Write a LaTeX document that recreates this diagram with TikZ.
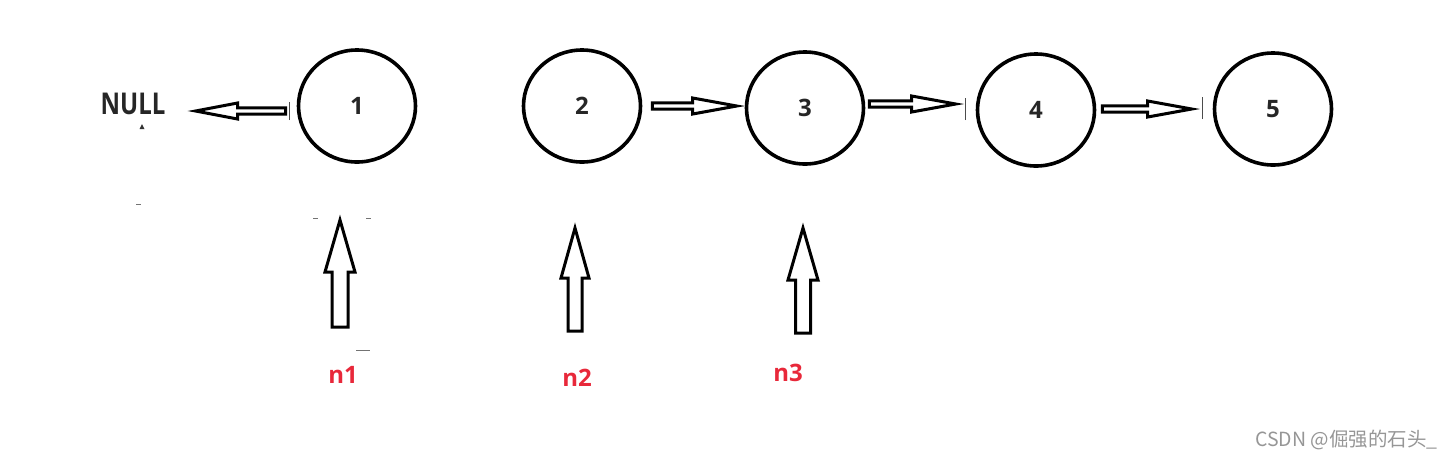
\documentclass[tikz,border=0pt]{standalone}
\usepackage{fontspec}
\setmainfont{Open Sans}
\newfontfamily\cjkfont{Noto Sans CJK SC}
\usetikzlibrary{calc,shapes.geometric}
\definecolor{lblred}{RGB}{232,40,58}
\definecolor{wmgrey}{RGB}{150,150,150}
\tikzset{
  listnode/.style={draw, line width=3.6pt, ellipse, minimum width=117pt, minimum height=112pt, inner sep=0pt, font=\fontsize{24}{28}\selectfont\bfseries, text=black!85},
  hollow/.style={draw, line width=3pt, line join=miter, fill=white},
  ptrlabel/.style={font=\fontsize{24}{28}\selectfont\bfseries, text=lblred},
  bar/.style={line width=1.2pt, black!70},
  speck/.style={line width=1pt, black!55}
}
% hollow arrow: #1 from, #2 to, #3 head length, #4 head half width, #5 shaft half width
\newcommand\hollowarrow[5]{%
  \coordinate (ha@h) at ($(#2)!#3!(#1)$);
  \draw[hollow] ($(#1)!#5!90:(#2)$) -- ($(ha@h)!#5!90:(#2)$) -- ($(ha@h)!#4!90:(#2)$)
     -- (#2) -- ($(ha@h)!#4!-90:(#2)$) -- ($(ha@h)!#5!-90:(#2)$) -- ($(#1)!#5!-90:(#2)$) -- cycle;
}
\begin{document}
\begin{tikzpicture}[x=1pt,y=-1pt]
\useasboundingbox (0,0) rectangle (1454,459);
% list nodes
\node[listnode] (c1) at (357,106) {1};
\node[listnode] (c2) at (582,106) {2};
\node[listnode] (c3) at (805,108) {3};
\node[listnode] (c4) at (1036,110) {4};
\node[listnode] (c5) at (1273,109) {5};
\node[font=\fontsize{30}{34}\selectfont\bfseries, text=black!85, inner sep=0pt, xscale=0.8, transform shape] (null) at (133,104) {NULL};
% pointer labels
\node[ptrlabel] (n1) at (343,375) {n1};
\node[ptrlabel] (n2) at (577,378) {n2};
\node[ptrlabel] (n3) at (788,373) {n3};
% horizontal arrows
\coordinate (a1s) at ([xshift=-11pt,yshift=-5pt]c1.west);
\coordinate (a1e) at ([xshift=30pt]null.east |- a1s);
\hollowarrow{a1s}{a1e}{42pt}{8pt}{3.2pt}
\coordinate (a2s) at ([xshift=10pt]c2.east);
\coordinate (a2e) at ([xshift=-8pt]c3.west |- a2s);
\hollowarrow{a2s}{a2e}{44pt}{8pt}{3.2pt}
\coordinate (a3s) at ([xshift=4pt,yshift=4pt]c3.east);
\coordinate (a3e) at ([xshift=-20pt]c4.west |- a3s);
\hollowarrow{a3s}{a3e}{44pt}{8pt}{3.2pt}
\coordinate (a4s) at ([xshift=6pt,yshift=1pt]c4.east);
\coordinate (a4e) at ([xshift=-21pt]c5.west |- a4s);
\hollowarrow{a4s}{a4e}{44pt}{8pt}{3.2pt}
% thin bars beside the circles
\draw[bar] ([xshift=-7pt,yshift=-14pt]c1.west) -- ([xshift=-7pt,yshift=4pt]c1.west);
\draw[bar] ([xshift=-10pt,yshift=-10pt]c4.west) -- ([xshift=-10pt,yshift=12pt]c4.west);
\draw[bar] ([xshift=-10pt,yshift=-10pt]c5.west) -- ([xshift=-10pt,yshift=12pt]c5.west);
% vertical pointer arrows
\coordinate (p1b) at (340,327);
\coordinate (p1t) at (340,220);
\hollowarrow{p1b}{p1t}{52pt}{15pt}{8pt}
\coordinate (p2b) at (575,331);
\coordinate (p2t) at (575,228);
\hollowarrow{p2b}{p2t}{50pt}{14pt}{7pt}
\coordinate (p3b) at (803,333);
\coordinate (p3t) at (803,228);
\hollowarrow{p3b}{p3t}{52pt}{15pt}{7.5pt}
% specks
\fill[black!80] (142,124) -- (144.5,129) -- (139.5,129) -- cycle;
\draw[speck] (136,204) -- (141,204);
\draw[speck] (313,218) -- (318,218);
\draw[speck] (366,218) -- (371,218);
\draw[speck] (356,350) -- (370,350);
% watermark
\node[font=\cjkfont\fontsize{19.5}{22}\selectfont, text=wmgrey, anchor=east] (wm) at (1441,440) {CSDN @倔强的石头\_};
\end{tikzpicture}
\end{document}
